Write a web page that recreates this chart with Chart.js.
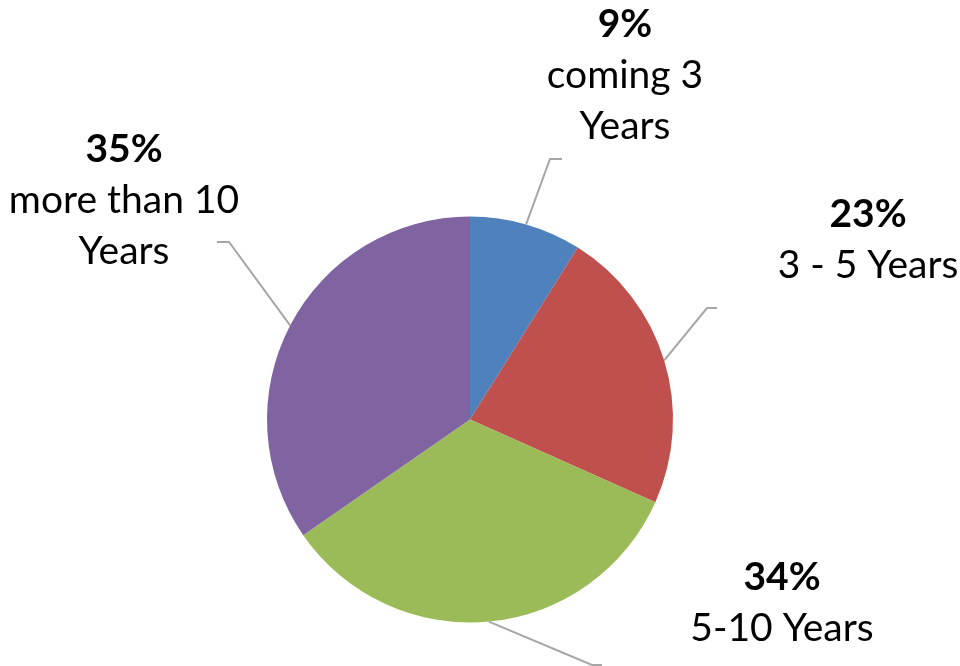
<!DOCTYPE html>
<html>
<head>
<meta charset="utf-8">
<script src="https://cdn.jsdelivr.net/npm/chart.js@4"></script>
<style>
  html, body { margin: 0; padding: 0; background: #fff; }
  #wrap { width: 960px; height: 666px; }
</style>
</head>
<body>
<div id="wrap"><canvas id="myChart"></canvas></div>
<script>
// data
const categories = [['coming 3', 'Years'], ['3 - 5 Years'], ['5-10 Years'], ['more than 10', 'Years']];
const shares = [9, 23, 34, 35];
const percentLabels = ['9%', '23%', '34%', '35%'];
const sliceColors = ['#4F81BD', '#C0504D', '#9BBB59', '#8064A2'];

// where each callout sits: elbow of the leader line, end of the short flat tick, text centre x / first baseline
const callouts = [
    { elbow: [550, 159], tick: [562, 159], x: 625, y: 37 },
    { elbow: [707, 308], tick: [717, 308], x: 868, y: 227 },
    { elbow: [592, 665], tick: [602, 665], x: 782, y: 590 },
    { elbow: [229, 242], tick: [217, 242], x: 124, y: 162 }
];

const calloutPlugin = {
    id: 'callouts',
    afterDatasetsDraw(chart) {
        const ctx = chart.ctx;
        const arcs = chart.getDatasetMeta(0).data;
        ctx.save();
        arcs.forEach((arc, i) => {
            const p = arc.getProps(['x', 'y', 'startAngle', 'endAngle', 'outerRadius'], true);
            const mid = (p.startAngle + p.endAngle) / 2;
            const sx = p.x + Math.cos(mid) * p.outerRadius;
            const sy = p.y + Math.sin(mid) * p.outerRadius;
            const c = callouts[i];
            // leader line
            ctx.strokeStyle = '#A6A6A6';
            ctx.lineWidth = 2;
            ctx.beginPath();
            ctx.moveTo(sx, sy);
            ctx.lineTo(c.elbow[0], c.elbow[1]);
            ctx.lineTo(c.tick[0], c.tick[1]);
            ctx.stroke();
            // text
            ctx.fillStyle = '#000';
            ctx.textAlign = 'center';
            ctx.textBaseline = 'alphabetic';
            ctx.font = 'bold 39px Lato';
            ctx.fillText(percentLabels[i], c.x, c.y);
            ctx.font = '39px Lato';
            categories[i].forEach((line, j) => {
                ctx.fillText(line, c.x, c.y + 51 * (j + 1));
            });
        });
        ctx.restore();
    }
};

new Chart(document.getElementById('myChart'), {
    type: 'pie',
    data: {
        labels: categories.map(l => l.join(' ')),
        datasets: [{
            data: shares,
            backgroundColor: sliceColors,
            borderWidth: 0
        }]
    },
    options: {
        responsive: true,
        maintainAspectRatio: false,
        animation: false,
        layout: {
            padding: { left: 267, right: 287, top: 216, bottom: 43 }
        },
        plugins: {
            legend: { display: false },
            tooltip: { enabled: false }
        }
    },
    plugins: [calloutPlugin]
});
</script>
</body>
</html>
